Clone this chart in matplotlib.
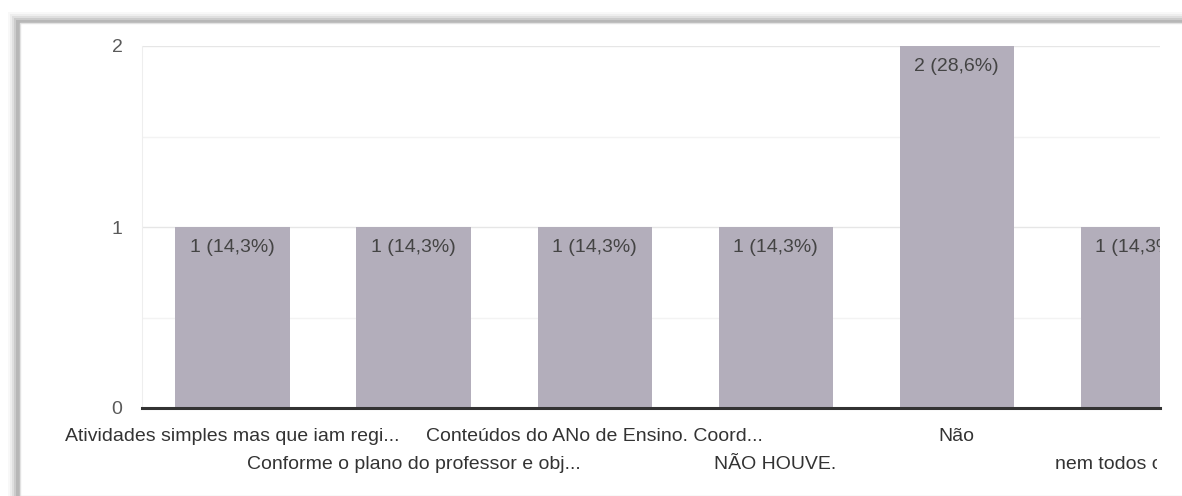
import matplotlib
matplotlib.use('Agg')
import matplotlib.pyplot as plt
from matplotlib.patches import Rectangle
from matplotlib.transforms import Bbox, TransformedBbox, blended_transform_factory

plt.rcParams['font.family'] = ['Liberation Sans', 'DejaVu Sans']

# respostas e contagens
categorias = [
    'Atividades simples mas que iam regi...',
    'Conforme o plano do professor e obj...',
    'Conteúdos do ANo de Ensino. Coord...',
    'NÃO HOUVE.',
    'Não',
    'nem todos os alu...',
]
contagens = [1, 1, 1, 1, 2, 1]
rotulos = ['1 (14,3%)', '1 (14,3%)', '1 (14,3%)', '1 (14,3%)', '2 (28,6%)', '1 (14,3%)']

W, H = 1182, 496
fig = plt.figure(figsize=(W / 100, H / 100), dpi=100)
fig.patch.set_facecolor('white')

# moldura com sombra (esquerda e topo)
for k, a in enumerate([0.05, 0.08, 0.12, 0.18, 0.25]):
    x0 = (8 + k * 2) / W
    y1 = 1 - (12 + k * 2) / H
    fig.add_artist(Rectangle((x0, 0), 1.0, y1, transform=fig.transFigure,
                             facecolor='#7a7a7a', alpha=a, edgecolor='none', zorder=-3))
fig.add_artist(Rectangle((20 / W, 0), 1.0, 1 - 23 / H, transform=fig.transFigure,
                         facecolor='white', edgecolor='#e2e2e2', lw=1, zorder=-2))

ax = fig.add_axes([142 / W, (H - 408) / H, (1160 - 142) / W, (408 - 46) / H])
ax.set_zorder(1)
ax.set_facecolor('none')
x = list(range(len(categorias)))
ax.bar(x, contagens, width=0.63, color='#b3aebb', zorder=2)

ax.set_xlim(-0.5, 5.124)
ax.set_ylim(0, 2)
ax.set_yticks([0, 1, 2])
ax.set_yticks([0.5, 1.5], minor=True)
ax.tick_params(axis='y', which='both', length=0, pad=14, labelsize=14, labelcolor='#5a5a5a')
ax.tick_params(axis='x', length=0)
ax.set_xticks([])
ax.grid(axis='y', which='major', color='#e6e6e6', lw=1, zorder=0)
ax.grid(axis='y', which='minor', color='#f3f3f3', lw=1, zorder=0)
for s in ['top', 'right']:
    ax.spines[s].set_visible(False)
ax.spines['left'].set_color('#eeeeee')
ax.spines['bottom'].set_color('#333333')
ax.spines['bottom'].set_linewidth(2.2)
ax.spines['bottom'].set_zorder(3)

# valores dentro das barras
for xi, v, r in zip(x, contagens, rotulos):
    ax.annotate(r, (xi, v), xytext=(0, -15), textcoords='offset points', ha='center', va='center',
                fontsize=14, color='#444444', clip_on=True, zorder=4)

# rótulos do eixo x em duas linhas alternadas
trans = blended_transform_factory(ax.transData, ax.transAxes)
clip = TransformedBbox(Bbox([[0, 0], [1157 / W, 1]]), fig.transFigure)
for xi, cat in zip(x, categorias):
    y = -0.080 if xi % 2 == 0 else -0.155
    t = ax.text(xi, y, cat, transform=trans, ha='center', va='center', fontsize=14,
                color='#333333')
    t.set_clip_on(True)
    t.set_clip_box(clip)

fig.savefig('out.png', dpi=100)
